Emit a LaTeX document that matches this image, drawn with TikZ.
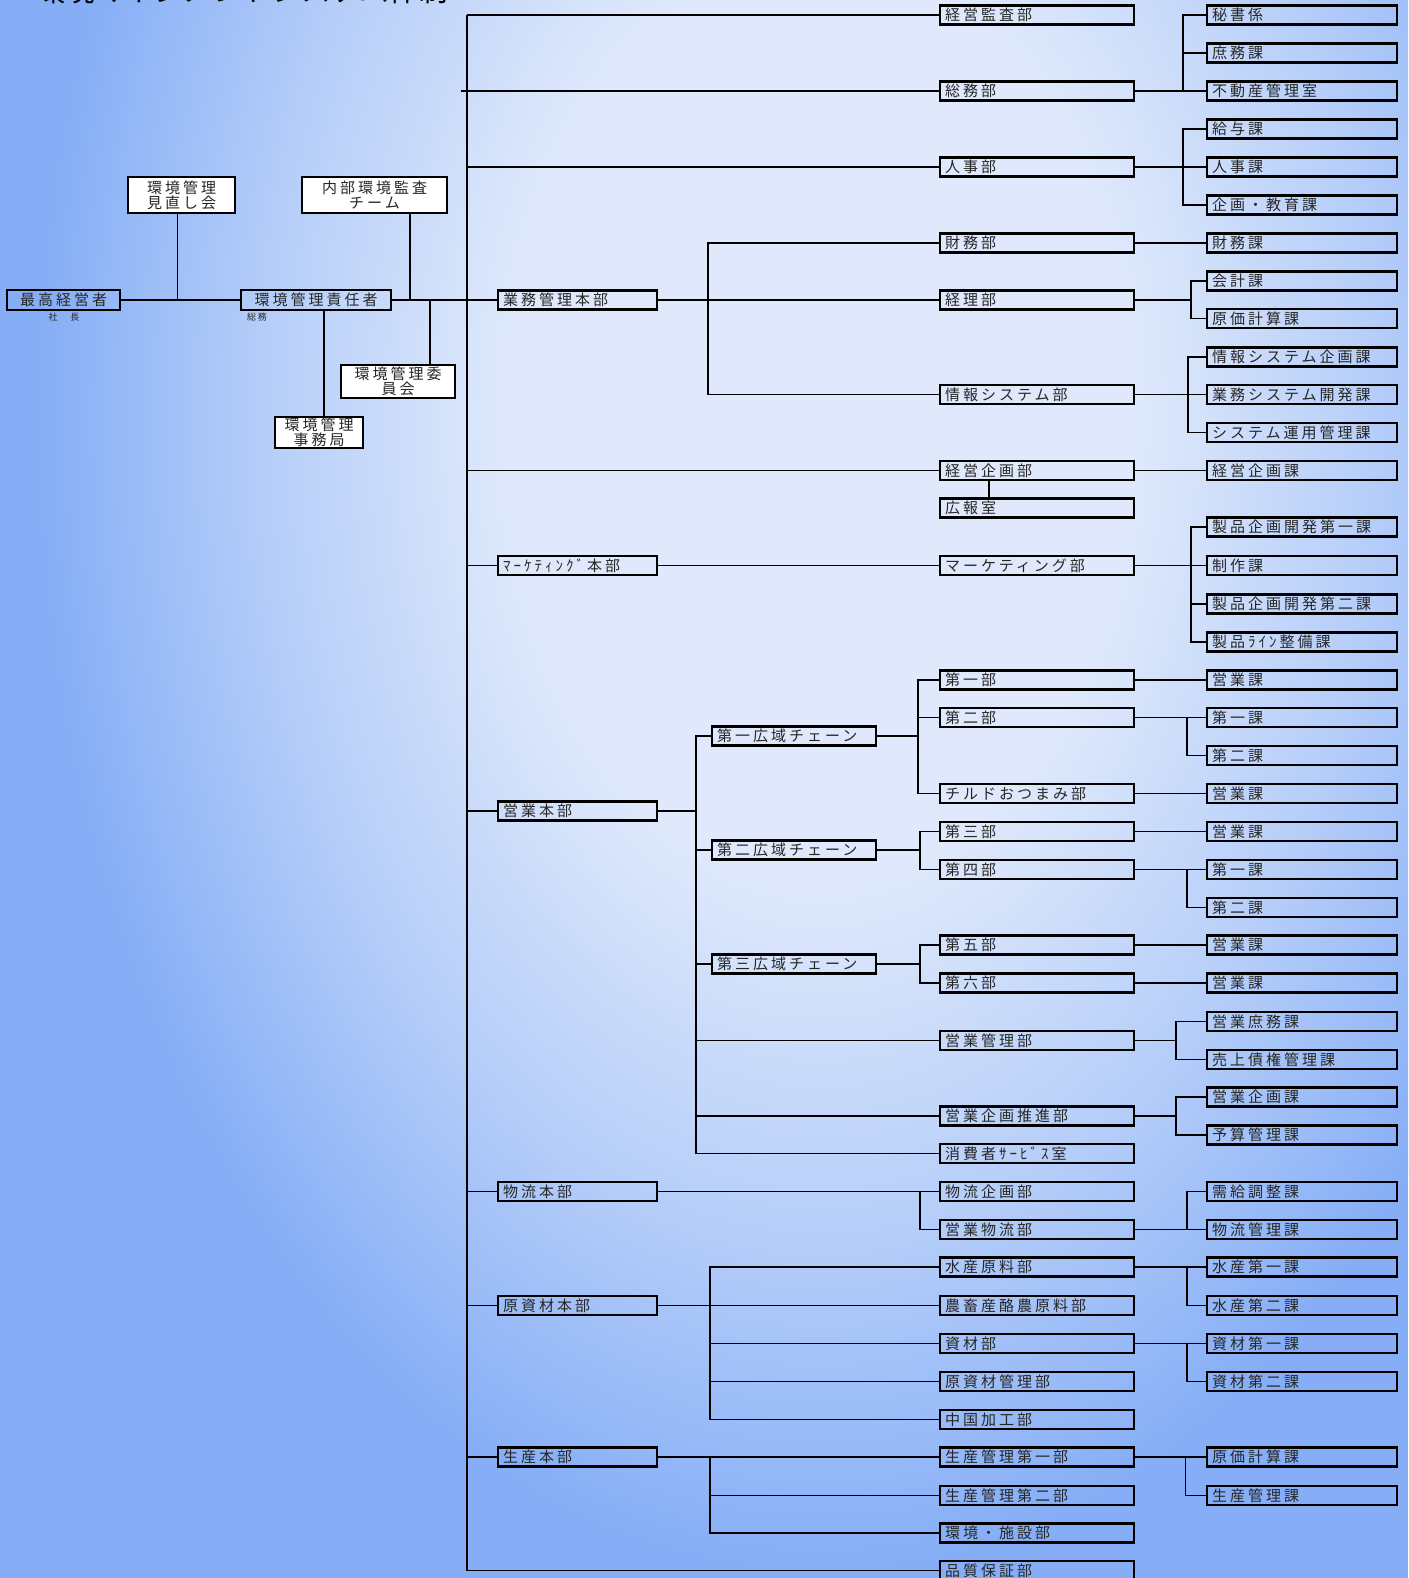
\documentclass[tikz,border=0pt]{standalone}
\usepackage{fontspec}
\newfontfamily\jp[LetterSpace=20]{Noto Sans CJK JP}
\newfontfamily\jptitle{Noto Sans CJK JP}
\definecolor{bgbase}{HTML}{86AEF6}
\definecolor{bgmid}{HTML}{B4CDF9}
\definecolor{bgin}{HTML}{DFE9FB}
\definecolor{txt}{HTML}{262626}
\pgfdeclareradialshading{bgshade}{\pgfpoint{0bp}{0bp}}{color(0bp)=(bgin); color(10bp)=(bgin); color(18bp)=(bgmid); color(25bp)=(bgbase); color(50bp)=(bgbase)}
\tikzset{
  box/.style={draw=black, line width=2.2pt, inner xsep=5pt, inner ysep=0pt, minimum height=19pt,
    anchor=west, align=left, font=\jp\fontsize{15}{16}\selectfont, text=txt},
  honbu/.style={box, text width=149pt},
  chainbox/.style={box, text width=154pt},
  bu/.style={box, text width=184pt},
  ka/.style={box, text width=180pt},
  wbox/.style={draw=black, fill=white, line width=1.6pt, inner sep=0pt, align=center,
    font=\jp\fontsize{15}{15}\selectfont, text=txt},
  tbox/.style={draw=black, line width=2.6pt, inner sep=0pt, align=center,
    font=\jp\fontsize{15}{16}\selectfont, text=txt},
  smalltxt/.style={inner sep=0pt, font=\jp\fontsize{9}{10}\selectfont, text=txt},
  conn/.style={line width=1.6pt, draw=black}
}
\begin{document}
\begin{tikzpicture}[x=1pt, y=-1pt]
\useasboundingbox (0,0) rectangle (1408,1578);
\begin{scope}
\clip (0,0) rectangle (1408,1578);
\fill[bgbase] (0,0) rectangle (1408,1578);
\shade[shading=bgshade] (820,420) ellipse [x radius=780pt, y radius=1150pt];
\node[anchor=base west, inner sep=0pt, font=\jptitle\fontsize{29.5}{30}\selectfont, text=black] (title) at (36,1.5) {環境マネジメントシステム体制};
\end{scope}

% ---------- left group ----------
\node[tbox, minimum width=113pt, minimum height=20pt] (saiko) at (63.5,300) {最高経営者};
\node[smalltxt] (shacho) at (64,317) {社　長};
\node[tbox, minimum width=150pt, minimum height=20pt] (sekinin) at (316,300) {環境管理責任者};
\node[smalltxt] (somusmall) at (257,317) {総務};
\node[wbox, minimum width=107pt, minimum height=36pt] (minaoshi) at (181.5,195) {環境管理\\見直し会};
\node[wbox, minimum width=145pt, minimum height=36pt] (naibu) at (374.5,195) {内部環境監査\\チーム};
\node[wbox, minimum width=114pt, minimum height=33pt] (iinkai) at (398,381.5) {環境管理委\\員会};
\node[wbox, minimum width=88pt, minimum height=31pt] (jimu) at (319,432.5) {環境管理\\事務局};

% ---------- honbu ----------
\node[honbu] (gyomu) at (497,300) {業務管理本部};
\node[honbu] (mkhonbu) at (497,565.5) {ﾏｰｹﾃｨﾝｸﾞ本部};
\node[honbu] (eigyohonbu) at (497,811) {営業本部};
\node[honbu] (butsuryuhonbu) at (497,1191.5) {物流本部};
\node[honbu] (genshizai) at (497,1305.5) {原資材本部};
\node[honbu] (seisanhonbu) at (497,1457) {生産本部};

% ---------- chains ----------
\node[chainbox] (chain1) at (711,736) {第一広域チェーン};
\node[chainbox] (chain2) at (711,850) {第二広域チェーン};
\node[chainbox] (chain3) at (711,964) {第三広域チェーン};

% ---------- bu ----------
\node[bu] (kansa) at (939,15) {経営監査部};
\node[bu] (somu) at (939,91) {総務部};
\node[bu] (jinji) at (939,167) {人事部};
\node[bu] (zaimu) at (939,243) {財務部};
\node[bu] (keiri) at (939,300) {経理部};
\node[bu] (johosys) at (939,394.5) {情報システム部};
\node[bu] (keieikikaku) at (939,470.5) {経営企画部};
\node[bu] (kouhou) at (939,508) {広報室};
\node[bu] (mkbu) at (939,565.5) {マーケティング部};
\node[bu] (dai1bu) at (939,680) {第一部};
\node[bu] (dai2bu) at (939,717.5) {第二部};
\node[bu] (chiru) at (939,793.5) {チルドおつまみ部};
\node[bu] (dai3bu) at (939,831.5) {第三部};
\node[bu] (dai4bu) at (939,869.5) {第四部};
\node[bu] (dai5bu) at (939,945) {第五部};
\node[bu] (dai6bu) at (939,983) {第六部};
\node[bu] (eigyokanri) at (939,1040.5) {営業管理部};
\node[bu] (eigyosuishin) at (939,1116) {営業企画推進部};
\node[bu] (shohisha) at (939,1153.5) {消費者ｻｰﾋﾞｽ室};
\node[bu] (bkikaku) at (939,1191.5) {物流企画部};
\node[bu] (ebutsuryu) at (939,1229.5) {営業物流部};
\node[bu] (suisangen) at (939,1267) {水産原料部};
\node[bu] (nochiku) at (939,1305.5) {農畜産酪農原料部};
\node[bu] (shizai) at (939,1343.5) {資材部};
\node[bu] (gskanri) at (939,1381.5) {原資材管理部};
\node[bu] (chugoku) at (939,1419.5) {中国加工部};
\node[bu] (sk1) at (939,1457) {生産管理第一部};
\node[bu] (sk2) at (939,1495.5) {生産管理第二部};
\node[bu] (kshisetsu) at (939,1533) {環境・施設部};
\node[bu] (hinshitsu) at (939,1570.5) {品質保証部};

% ---------- ka ----------
\node[ka] (hisho) at (1206,15) {秘書係};
\node[ka] (shomu) at (1206,53) {庶務課};
\node[ka] (fudosan) at (1206,91) {不動産管理室};
\node[ka] (kyuyo) at (1206,129) {給与課};
\node[ka] (jinjika) at (1206,167) {人事課};
\node[ka] (kyoiku) at (1206,205) {企画・教育課};
\node[ka] (zaimuka) at (1206,243) {財務課};
\node[ka] (kaikei) at (1206,281) {会計課};
\node[ka] (genka1) at (1206,318.5) {原価計算課};
\node[ka] (jskikaku) at (1206,357) {情報システム企画課};
\node[ka] (gyomusys) at (1206,394.5) {業務システム開発課};
\node[ka] (unyo) at (1206,432.5) {システム運用管理課};
\node[ka] (kkka) at (1206,470.5) {経営企画課};
\node[ka] (seihin1) at (1206,527) {製品企画開発第一課};
\node[ka] (seisaku) at (1206,565.5) {制作課};
\node[ka] (seihin2) at (1206,604) {製品企画開発第二課};
\node[ka] (seihinline) at (1206,642) {製品ﾗｲﾝ整備課};
\node[ka] (ek1) at (1206,680) {営業課};
\node[ka] (kaia) at (1206,717.5) {第一課};
\node[ka] (kaib) at (1206,755.5) {第二課};
\node[ka] (ek2) at (1206,793.5) {営業課};
\node[ka] (ek3) at (1206,831.5) {営業課};
\node[ka] (kaic) at (1206,869.5) {第一課};
\node[ka] (kaid) at (1206,907.5) {第二課};
\node[ka] (ek4) at (1206,945) {営業課};
\node[ka] (ek5) at (1206,983) {営業課};
\node[ka] (eshomu) at (1206,1021.5) {営業庶務課};
\node[ka] (uriage) at (1206,1059.5) {売上債権管理課};
\node[ka] (ekikakuka) at (1206,1097) {営業企画課};
\node[ka] (yosan) at (1206,1135) {予算管理課};
\node[ka] (jukyu) at (1206,1191.5) {需給調整課};
\node[ka] (bkanri) at (1206,1229.5) {物流管理課};
\node[ka] (suisan1) at (1206,1267) {水産第一課};
\node[ka] (suisan2) at (1206,1305.5) {水産第二課};
\node[ka] (shizai1) at (1206,1343.5) {資材第一課};
\node[ka] (shizai2) at (1206,1381.5) {資材第二課};
\node[ka] (genka2) at (1206,1457) {原価計算課};
\node[ka] (skanrika) at (1206,1495.5) {生産管理課};

% ---------- bus coordinates ----------
\coordinate (ja) at (177.5,300);
\coordinate (jb) at (410,300);
\coordinate (jc) at (430,300);
\coordinate (jd) at (324,300);
\coordinate (mx) at (467,0);
\coordinate (mxl) at (461,0);
\coordinate (bg) at (708,0);
\coordinate (be) at (696,0);
\coordinate (bgs) at (710,0);
\coordinate (bc1) at (918,0);
\coordinate (bc2) at (920,0);
\coordinate (bs) at (1183,0);
\coordinate (bk) at (1191,0);
\coordinate (bj) at (1188,0);
\coordinate (bkk) at (989,0);
\coordinate (bm) at (1191,0);
\coordinate (bd) at (1187,0);
\coordinate (bek) at (1176,0);
\coordinate (bse) at (1185.5,0);

% ---------- left connectors ----------
\draw[conn] (saiko.east) -- (sekinin.west);
\draw[conn] (ja |- minaoshi.south) -- (ja);
\draw[conn] (jb |- naibu.south) -- (jb);
\draw[conn] (jc) -- (jc |- iinkai.north);
\draw[conn] (jd |- sekinin.south) -- (jd |- jimu.north);
\draw[conn] (sekinin.east) -- (gyomu.west);

% ---------- main bus ----------
\draw[conn] (mx |- kansa.west) -- (mx |- hinshitsu.west) -- (hinshitsu.west);
\draw[conn] (mx |- kansa.west) -- (kansa.west);
\draw[conn] (mxl |- somu.west) -- (somu.west);
\draw[conn] (mx |- jinji.west) -- (jinji.west);
\draw[conn] (mx |- keieikikaku.west) -- (keieikikaku.west);
\draw[conn] (mx |- mkhonbu.west) -- (mkhonbu.west);
\draw[conn] (mx |- eigyohonbu.west) -- (eigyohonbu.west);
\draw[conn] (mx |- butsuryuhonbu.west) -- (butsuryuhonbu.west);
\draw[conn] (mx |- genshizai.west) -- (genshizai.west);
\draw[conn] (mx |- seisanhonbu.west) -- (seisanhonbu.west);

% ---------- gyomu kanri ----------
\draw[conn] (gyomu.east) -- (keiri.west);
\draw[conn] (zaimu.west) -- (zaimu.west -| bg) -- (johosys.west -| bg) -- (johosys.west);

\draw[conn] (somu.east) -- (fudosan.west);
\draw[conn] (hisho.west) -- (hisho.west -| bs) -- (fudosan.west -| bs);
\draw[conn] (shomu.west) -- (shomu.west -| bs);
\draw[conn] (jinji.east) -- (jinjika.west);
\draw[conn] (kyuyo.west) -- (kyuyo.west -| bs) -- (kyoiku.west -| bs) -- (kyoiku.west);
\draw[conn] (zaimu.east) -- (zaimuka.west);
\draw[conn] (keiri.east) -- (keiri.east -| bk);
\draw[conn] (kaikei.west) -- (kaikei.west -| bk) -- (genka1.west -| bk) -- (genka1.west);
\draw[conn] (johosys.east) -- (gyomusys.west);
\draw[conn] (jskikaku.west) -- (jskikaku.west -| bj) -- (unyo.west -| bj) -- (unyo.west);
\draw[conn] (keieikikaku.east) -- (kkka.west);
\draw[conn] (bkk |- keieikikaku.south) -- (bkk |- kouhou.north);

% ---------- marketing ----------
\draw[conn] (mkhonbu.east) -- (mkbu.west);
\draw[conn] (mkbu.east) -- (seisaku.west);
\draw[conn] (seihin1.west) -- (seihin1.west -| bm) -- (seihinline.west -| bm) -- (seihinline.west);
\draw[conn] (seihin2.west) -- (seihin2.west -| bm);

% ---------- eigyo ----------
\draw[conn] (eigyohonbu.east) -- (eigyohonbu.east -| be);
\draw[conn] (chain1.west) -- (chain1.west -| be) -- (shohisha.west -| be) -- (shohisha.west);
\draw[conn] (chain2.west) -- (chain2.west -| be);
\draw[conn] (chain3.west) -- (chain3.west -| be);
\draw[conn] (eigyokanri.west) -- (eigyokanri.west -| be);
\draw[conn] (eigyosuishin.west) -- (eigyosuishin.west -| be);

\draw[conn] (chain1.east) -- (chain1.east -| bc1);
\draw[conn] (dai1bu.west) -- (dai1bu.west -| bc1) -- (chiru.west -| bc1) -- (chiru.west);
\draw[conn] (dai2bu.west) -- (dai2bu.west -| bc1);
\draw[conn] (chain2.east) -- (chain2.east -| bc2);
\draw[conn] (dai3bu.west) -- (dai3bu.west -| bc2) -- (dai4bu.west -| bc2) -- (dai4bu.west);
\draw[conn] (chain3.east) -- (chain3.east -| bc2);
\draw[conn] (dai5bu.west) -- (dai5bu.west -| bc2) -- (dai6bu.west -| bc2) -- (dai6bu.west);

\draw[conn] (dai1bu.east) -- (ek1.west);
\draw[conn] (dai2bu.east) -- (kaia.west);
\draw[conn] (kaia.west -| bd) -- (kaib.west -| bd) -- (kaib.west);
\draw[conn] (chiru.east) -- (ek2.west);
\draw[conn] (dai3bu.east) -- (ek3.west);
\draw[conn] (dai4bu.east) -- (kaic.west);
\draw[conn] (kaic.west -| bd) -- (kaid.west -| bd) -- (kaid.west);
\draw[conn] (dai5bu.east) -- (ek4.west);
\draw[conn] (dai6bu.east) -- (ek5.west);

\draw[conn] (eigyokanri.east) -- (eigyokanri.east -| bek);
\draw[conn] (eshomu.west) -- (eshomu.west -| bek) -- (uriage.west -| bek) -- (uriage.west);
\draw[conn] (eigyosuishin.east) -- (eigyosuishin.east -| bek);
\draw[conn] (ekikakuka.west) -- (ekikakuka.west -| bek) -- (yosan.west -| bek) -- (yosan.west);

% ---------- butsuryu ----------
\draw[conn] (butsuryuhonbu.east) -- (bkikaku.west);
\draw[conn] (bkikaku.west -| bc2) -- (ebutsuryu.west -| bc2) -- (ebutsuryu.west);
\draw[conn] (ebutsuryu.east) -- (bkanri.west);
\draw[conn] (jukyu.west) -- (jukyu.west -| bd) -- (bkanri.west -| bd);

% ---------- genshizai ----------
\draw[conn] (genshizai.east) -- (nochiku.west);
\draw[conn] (suisangen.west) -- (suisangen.west -| bgs) -- (chugoku.west -| bgs) -- (chugoku.west);
\draw[conn] (shizai.west) -- (shizai.west -| bgs);
\draw[conn] (gskanri.west) -- (gskanri.west -| bgs);
\draw[conn] (suisangen.east) -- (suisan1.west);
\draw[conn] (suisan1.west -| bd) -- (suisan2.west -| bd) -- (suisan2.west);
\draw[conn] (shizai.east) -- (shizai1.west);
\draw[conn] (shizai1.west -| bd) -- (shizai2.west -| bd) -- (shizai2.west);

% ---------- seisan ----------
\draw[conn] (seisanhonbu.east) -- (sk1.west);
\draw[conn] (sk1.west -| bgs) -- (kshisetsu.west -| bgs) -- (kshisetsu.west);
\draw[conn] (sk2.west) -- (sk2.west -| bgs);
\draw[conn] (sk1.east) -- (genka2.west);
\draw[conn] (genka2.west -| bse) -- (skanrika.west -| bse) -- (skanrika.west);
\end{tikzpicture}
\end{document}
